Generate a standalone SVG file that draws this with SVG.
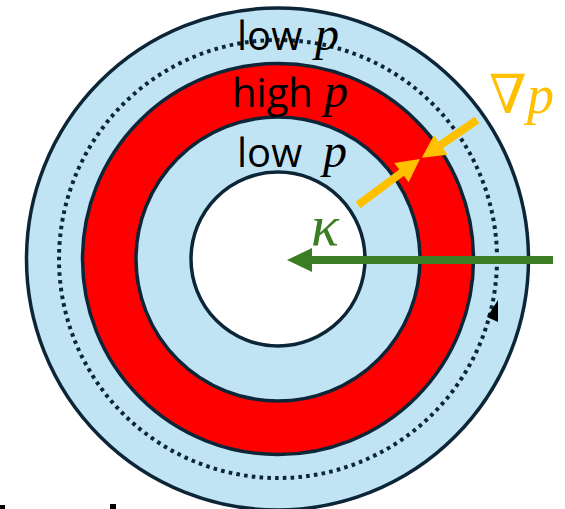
<svg xmlns="http://www.w3.org/2000/svg" width="565" height="509" viewBox="0 0 565 509">
<style>
.ring{stroke:#0d2637;stroke-width:3.5}
.blue{fill:#c1e4f5}
.red{fill:#ff0000}
.white{fill:#ffffff}
.lbl{font-family:"Open Sans","Noto Sans",sans-serif;font-size:40px;fill:#000}
.m{font-family:"Liberation Serif","DejaVu Serif",serif;font-style:italic}
.dots{fill:none;stroke:#0d2637;stroke-width:4;stroke-dasharray:3.6 4.2}
.yarrow{stroke:#ffc000;stroke-width:8;fill:none}
.garrow{stroke:#3b7d23;stroke-width:8;fill:none}
</style>
<defs>
<marker id="yh" viewBox="0 -13 24 26" refX="1" refY="0" markerWidth="24" markerHeight="26" markerUnits="userSpaceOnUse" orient="auto" overflow="visible">
<path d="M0,-12 L23,0 L0,12 z" fill="#ffc000"/>
</marker>
<marker id="gh" viewBox="0 -13 26 26" refX="1" refY="0" markerWidth="26" markerHeight="26" markerUnits="userSpaceOnUse" orient="auto" overflow="visible">
<path d="M0,-12 L25,0 L0,12 z" fill="#3b7d23"/>
</marker>
</defs>
<rect width="565" height="509" fill="#ffffff"/>
<g id="outer-low">
<circle cx="277.5" cy="259" r="251" class="ring blue"/>
</g>
<g id="high">
<circle cx="278" cy="259" r="195.5" class="ring red"/>
</g>
<g id="inner-low">
<circle cx="278" cy="259" r="142" class="ring blue"/>
</g>
<g id="core">
<circle cx="278" cy="259" r="87" class="ring white"/>
</g>
<g id="connectors">
<circle cx="278" cy="259" r="219" class="dots"/>
<polygon points="498,300 487,317 498,322" fill="#000000"/>
<line x1="553" y1="260" x2="311" y2="260" class="garrow" marker-end="url(#gh)"/>
<line x1="477" y1="120" x2="440" y2="145.4" class="yarrow" marker-end="url(#yh)"/>
<line x1="358" y1="205" x2="402.3" y2="172.1" class="yarrow" marker-end="url(#yh)"/>
</g>
<g id="labels">
<text class="lbl" y="50"><tspan x="237">low</tspan><tspan class="m" x="315" font-size="48">p</tspan></text>
<text class="lbl" y="107"><tspan x="232">high</tspan><tspan class="m" x="324" font-size="48">p</tspan></text>
<text class="lbl" y="167"><tspan x="237">low</tspan><tspan class="m" x="323" font-size="48">p</tspan></text>
<text class="m" y="113" font-size="54" fill="#ffc000"><tspan x="489" font-style="normal">∇</tspan><tspan x="527">p</tspan></text>
<text class="m" x="311" y="245" font-size="58" fill="#3b7d23">κ</text>
</g>
<rect x="0" y="505" width="5" height="4" fill="#000"/>
<rect x="110" y="504" width="6" height="5" fill="#000"/>
</svg>
